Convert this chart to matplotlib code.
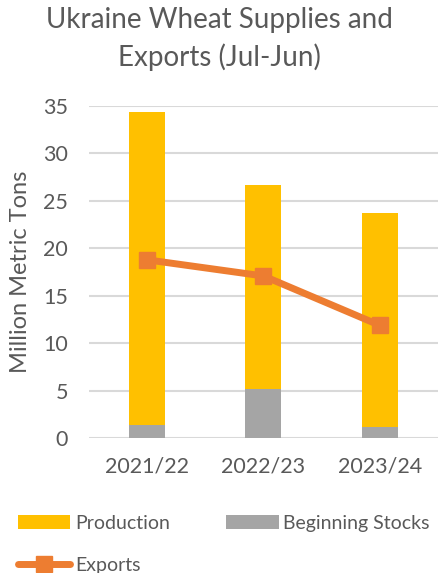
import matplotlib

matplotlib.use("Agg")
import matplotlib.pyplot as plt
import numpy as np

# Data (million metric tons)
years = ["2021/22", "2022/23", "2023/24"]
beginning_stocks = [1.4, 5.2, 1.2]
production = [33.0, 21.5, 22.5]
exports = [18.8, 17.1, 11.9]

GOLD = "#FFC000"
GRAY = "#A5A5A5"
ORANGE = "#ED7D31"
TEXT = "#595959"
GRID = "#D9D9D9"

plt.rcParams["font.family"] = ["Lato", "DejaVu Sans"]

fig = plt.figure(figsize=(4.38, 5.73), dpi=100)
ax = fig.add_axes([0.203, 0.235, 0.797, 0.58])

x = np.arange(len(years))
w = 0.31
b1 = ax.bar(x, beginning_stocks, width=w, color=GRAY, zorder=2, label="Beginning Stocks")
b2 = ax.bar(x, production, width=w, bottom=beginning_stocks, color=GOLD, zorder=2,
            label="Production")
ln, = ax.plot(x, exports, color=ORANGE, linewidth=5, marker="s", markersize=11,
              zorder=3, label="Exports", solid_capstyle="round")

ax.set_xlim(-0.5, 2.5)
ax.set_ylim(0, 35)
ax.set_yticks(range(0, 36, 5))
ax.set_xticks(x)
ax.set_xticklabels(years)
ax.yaxis.grid(True, color=GRID, linewidth=1.5, zorder=0)
ax.set_axisbelow(True)
for s in ax.spines.values():
    s.set_visible(False)
ax.tick_params(length=0, labelsize=15.5, colors=TEXT)
ax.tick_params(axis="y", pad=15)
ax.tick_params(axis="x", pad=13)
ax.set_ylabel("Million Metric Tons", fontsize=17, color=TEXT)
ax.yaxis.set_label_coords(-0.165, 0.5)

fig.suptitle("Ukraine Wheat Supplies and\nExports (Jul-Jun)", fontsize=20, color=TEXT,
             y=0.988, linespacing=1.45)

fig.legend([b2, ln, b1], ["Production", "Exports", "Beginning Stocks"], ncol=2,
           loc="lower left", bbox_to_anchor=(0.0, -0.032), frameon=False, fontsize=14,
           labelcolor=TEXT, handlelength=2.7, handletextpad=0.25, columnspacing=2.9,
           labelspacing=1.3)

fig.savefig("out.png", dpi=100)
